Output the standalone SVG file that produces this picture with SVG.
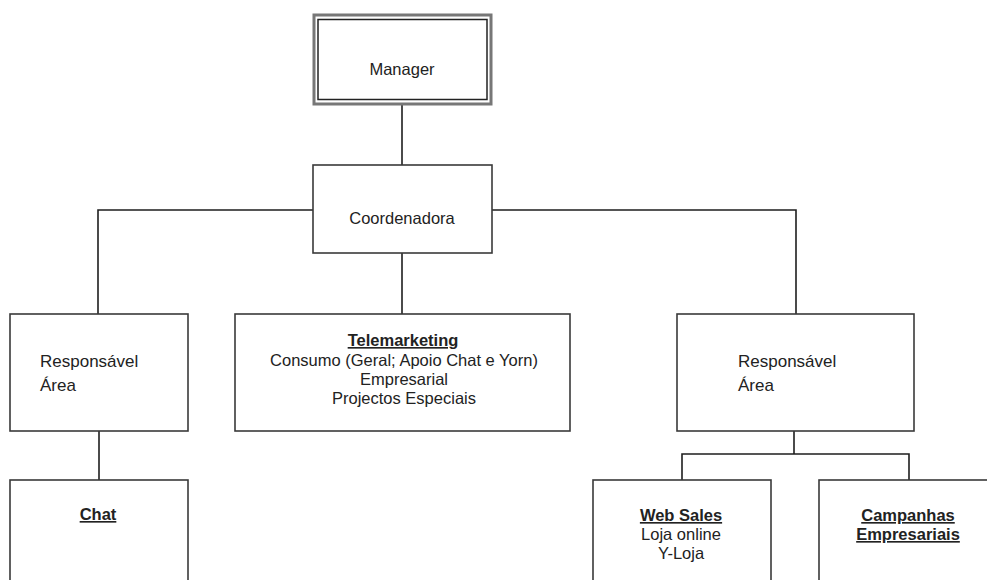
<svg xmlns="http://www.w3.org/2000/svg" width="987" height="580" viewBox="0 0 987 580">
<style>
.box{fill:#fff;stroke:#3a3a3a;stroke-width:1.6}
.conn{fill:none;stroke:#1e1e1e;stroke-width:1.6}
text{font-family:"Liberation Sans",Arial,sans-serif;font-size:16.5px;fill:#222}
.c{text-anchor:middle}
.b{font-weight:bold;text-decoration:underline}
.big{font-size:17px}
</style>
<rect width="987" height="580" fill="#fff"/>
<g id="connectors">
<line class="conn" x1="402" y1="104" x2="402" y2="165"/>
<polyline class="conn" points="98,314 98,210 313,210"/>
<polyline class="conn" points="492,210 796,210 796,314"/>
<line class="conn" x1="402" y1="253" x2="402" y2="314"/>
<line class="conn" x1="99" y1="431" x2="99" y2="480"/>
<line class="conn" x1="794" y1="431" x2="794" y2="454"/>
<polyline class="conn" points="682,480 682,454 909,454 909,480"/>
</g>
<g id="manager">
<rect x="314" y="15" width="177" height="89" fill="#fff" stroke="#777" stroke-width="3"/>
<rect x="318" y="19.5" width="169" height="80" fill="#fff" stroke="#222" stroke-width="1.5"/>
<text class="c" x="402" y="75">Manager</text>
</g>
<g id="coordenadora">
<rect class="box" x="313" y="165" width="179" height="88"/>
<text class="c" x="402" y="224">Coordenadora</text>
</g>
<g id="resp-left">
<rect class="box" x="10" y="314" width="178" height="117"/>
<text class="big" x="40" y="367">Responsável</text>
<text class="big" x="40" y="391">Área</text>
</g>
<g id="telemarketing">
<rect class="box" x="235" y="314" width="335" height="117"/>
<text class="c b" x="403" y="346">Telemarketing</text>
<text class="c" x="404" y="366">Consumo (Geral; Apoio Chat e Yorn)</text>
<text class="c" x="404" y="385">Empresarial</text>
<text class="c" x="404" y="404">Projectos Especiais</text>
</g>
<g id="resp-right">
<rect class="box" x="677" y="314" width="237" height="117"/>
<text class="big" x="738" y="367">Responsável</text>
<text class="big" x="738" y="391">Área</text>
</g>
<g id="chat">
<rect class="box" x="10" y="480" width="178" height="110"/>
<text class="c b" x="98" y="520">Chat</text>
</g>
<g id="web-sales">
<rect class="box" x="593" y="480" width="178" height="110"/>
<text class="c b" x="681" y="521">Web Sales</text>
<text class="c" x="681" y="540">Loja online</text>
<text class="c" x="681" y="559">Y-Loja</text>
</g>
<g id="campanhas">
<rect class="box" x="819" y="480" width="180" height="110"/>
<text class="c b" x="908" y="521">Campanhas</text>
<text class="c b" x="908" y="540">Empresariais</text>
</g>
</svg>
